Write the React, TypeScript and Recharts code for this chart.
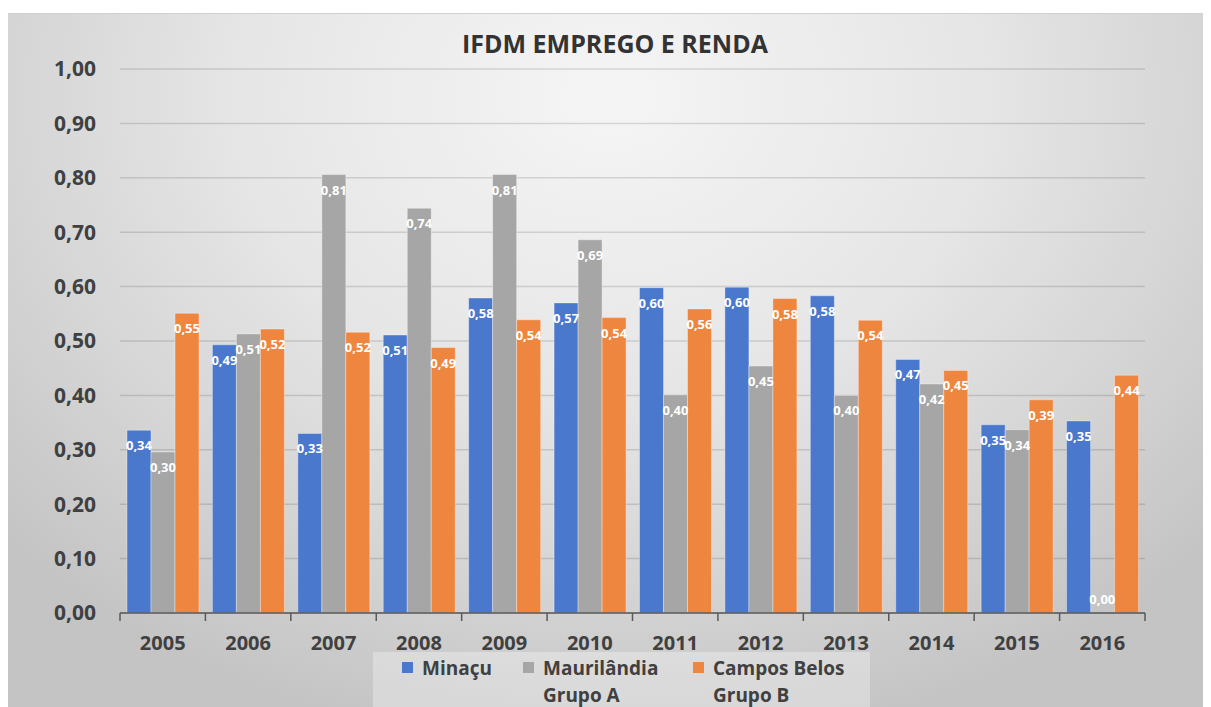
import React from "react"
import { BarChart, Bar, XAxis, YAxis, CartesianGrid, LabelList, ReferenceDot } from "recharts"

const years = ["2005", "2006", "2007", "2008", "2009", "2010", "2011", "2012", "2013", "2014", "2015", "2016"]
const minacu = [0.336, 0.493, 0.33, 0.511, 0.579, 0.57, 0.598, 0.599, 0.583, 0.466, 0.346, 0.353]
const maurilandia = [0.296, 0.513, 0.806, 0.744, 0.806, 0.686, 0.401, 0.454, 0.4, 0.421, 0.337, 0]
const camposBelos = [0.551, 0.522, 0.516, 0.488, 0.539, 0.543, 0.559, 0.578, 0.538, 0.446, 0.392, 0.437]
const yTicks = [0, 0.1, 0.2, 0.3, 0.4, 0.5, 0.6, 0.7, 0.8, 0.9, 1]

const series = [
  { key: "minacu", name: "Minaçu", sub: "", color: "#4a78cc" },
  { key: "maurilandia", name: "Maurilândia", sub: "Grupo A", color: "#a6a6a6" },
  { key: "camposBelos", name: "Campos Belos", sub: "Grupo B", color: "#ee8640" },
]

const data = years.map((year, i) => ({
  year,
  minacu: minacu[i],
  maurilandia: maurilandia[i],
  camposBelos: camposBelos[i],
}))

// Maurilândia is the middle bar, so its zero-value labels sit on the category centre
const maurilandiaZeros = years.filter((_, i) => maurilandia[i] === 0)

const W = 1203
const H = 694
const FONT = "'Open Sans', 'DejaVu Sans', sans-serif"
const TEXT = "#404040"
const PLOT_LEFT = 112
const PLOT_RIGHT = 66
const BAND = (W - PLOT_LEFT - PLOT_RIGHT) / years.length

const fmt = (v: number) => v.toFixed(2).replace(".", ",")

function LabelText({ x, y, value }: { x: number; y: number; value: number }) {
  return (
    <text
      x={x}
      y={y}
      textAnchor="middle"
      dominantBaseline="central"
      fill="#ffffff"
      fontFamily={FONT}
      fontWeight="bold"
      fontSize={13}
    >
      {fmt(value)}
    </text>
  )
}

function BarLabel(props: any) {
  const { x, y, width, height, value } = props
  if (value == null || !height) return null
  const v = Array.isArray(value) ? value[1] : value
  return <LabelText x={Number(x) + Number(width) / 2} y={Number(y) + 15} value={Number(v)} />
}

function ZeroLabel(props: any) {
  return <LabelText x={props.cx} y={props.cy - 14} value={0} />
}

function YearTick(props: any) {
  const { x, y, payload, index } = props
  const left = x - BAND / 2
  return (
    <g>
      <line x1={left} y1={y} x2={left} y2={y + 8} stroke="#595959" strokeWidth={1.5} />
      {index === years.length - 1 && (
        <line x1={x + BAND / 2} y1={y} x2={x + BAND / 2} y2={y + 8} stroke="#595959" strokeWidth={1.5} />
      )}
      <text
        x={x}
        y={y + 29}
        textAnchor="middle"
        dominantBaseline="central"
        fill={TEXT}
        fontFamily={FONT}
        fontWeight="bold"
        fontSize={20}
      >
        {payload.value}
      </text>
    </g>
  )
}

function LegendBox() {
  const offsets = [29, 150, 320]
  return (
    <div
      style={{
        position: "absolute",
        left: 365,
        top: 638,
        width: 497,
        height: 55,
        background: "rgba(255,255,255,0.3)",
        fontFamily: FONT,
        fontWeight: "bold",
        fontSize: 19,
        color: TEXT,
      }}
    >
      {series.map((s, i) => (
        <div key={s.key} style={{ position: "absolute", left: offsets[i], top: 3, lineHeight: "27px" }}>
          <span
            style={{
              display: "inline-block",
              width: 11,
              height: 11,
              background: s.color,
              marginRight: 9,
              verticalAlign: "middle",
              position: "relative",
              top: -2,
            }}
          />
          {s.name}
          {s.sub && <div style={{ paddingLeft: 20 }}>{s.sub}</div>}
        </div>
      ))}
    </div>
  )
}

export default function App() {
  return (
    <div
      style={{
        position: "relative",
        width: W,
        height: H,
        marginTop: 5,
        borderTop: "1px solid #d0d0d0",
        boxSizing: "border-box",
        background: "radial-gradient(ellipse 68% 95% at 50% 12%, #f5f5f5 0%, #e6e6e6 45%, #d4d4d4 75%, #c4c4c4 100%)",
      }}
    >
      <div
        style={{
          position: "absolute",
          top: 12,
          left: 0,
          width: 1214,
          textAlign: "center",
          fontFamily: FONT,
          fontWeight: "bold",
          fontSize: 25,
          color: "#333333",
        }}
      >
        IFDM EMPREGO E RENDA
      </div>
      <BarChart
        width={W}
        height={H}
        data={data}
        margin={{ top: 55, right: PLOT_RIGHT, bottom: 65, left: 0 }}
        barCategoryGap={7}
        barGap={0}
      >
        <CartesianGrid horizontal vertical={false} stroke="rgba(0,0,0,0.13)" strokeWidth={1.5} />
        <XAxis
          dataKey="year"
          height={30}
          axisLine={{ stroke: "#595959", strokeWidth: 1.5 }}
          tickLine={false}
          tickSize={0}
          tickMargin={0}
          interval={0}
          tick={<YearTick />}
        />
        <YAxis
          width={PLOT_LEFT}
          domain={[0, 1]}
          ticks={yTicks}
          tickFormatter={fmt}
          axisLine={false}
          tickLine={false}
          tickSize={0}
          tickMargin={24}
          tick={{ fill: TEXT, fontFamily: FONT, fontWeight: "bold", fontSize: 21 }}
        />
        {series.map((s) => (
          <Bar
            key={s.key}
            dataKey={s.key}
            name={s.name}
            fill={s.color}
            stroke="rgba(255,255,255,0.35)"
            strokeWidth={1}
            isAnimationActive={false}
          >
            <LabelList dataKey={s.key} content={<BarLabel />} />
          </Bar>
        ))}
        {maurilandiaZeros.map((year) => (
          <ReferenceDot key={year} x={year} y={0} r={0} shape={<ZeroLabel />} ifOverflow="visible" />
        ))}
      </BarChart>
      <LegendBox />
    </div>
  )
}
